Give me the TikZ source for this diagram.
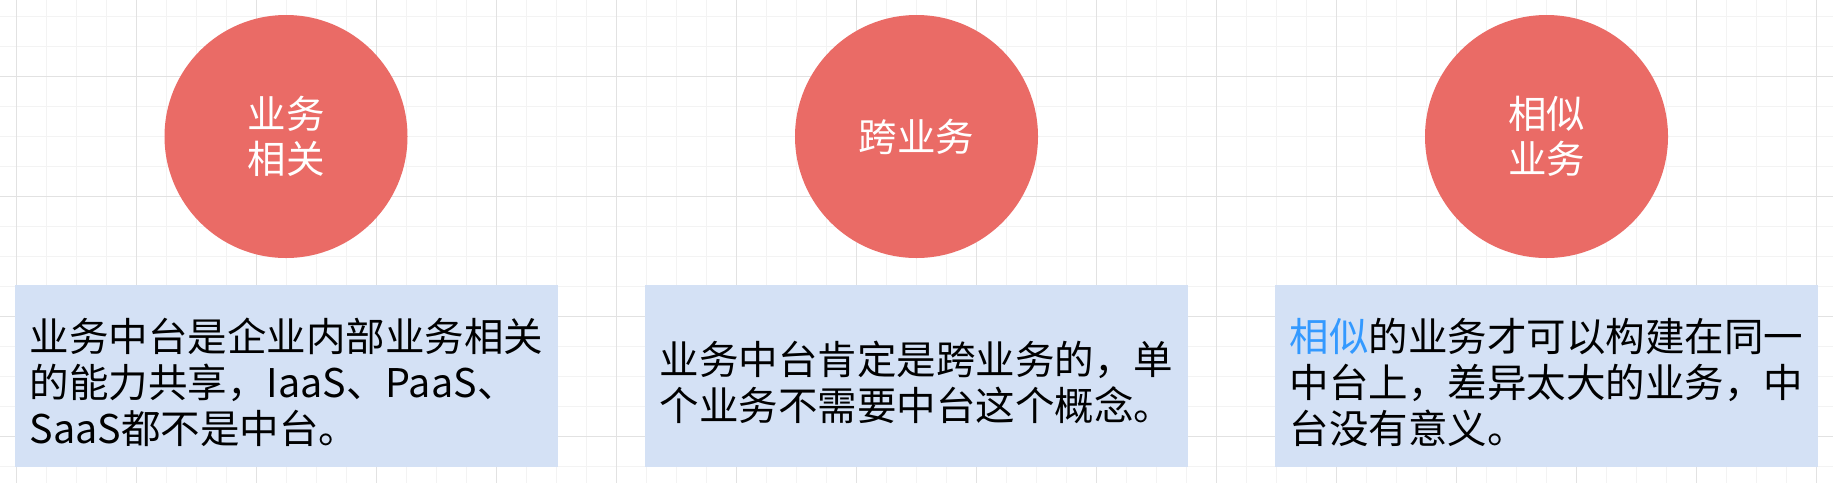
\documentclass[tikz,border=0pt]{standalone}
\usepackage{fontspec}
\setmainfont{Noto Sans CJK SC}
\definecolor{circred}{HTML}{EA6B66}
\definecolor{boxblue}{HTML}{D4E1F5}
\definecolor{hlblue}{HTML}{3399FF}
\definecolor{gridminor}{HTML}{F3F3F3}
\definecolor{gridmajor}{HTML}{E2E2E2}
\tikzset{
  minorline/.style={draw=gridminor, line width=1pt},
  majorline/.style={draw=gridmajor, line width=1.5pt},
  circnode/.style={circle, fill=circred, draw=none, minimum size=243pt, inner sep=0pt,
    text=white, align=center, font=\fontsize{38.5}{44.5}\selectfont},
  textbox/.style={rectangle, fill=boxblue, draw=none, minimum width=543pt, minimum height=182pt,
    inner sep=0pt},
  boxtext/.style={inner sep=0pt, text=black, align=left, font=\fontsize{39.5}{46}\selectfont}
}
\begin{document}
\begin{tikzpicture}[x=1pt,y=-1pt]
\useasboundingbox (0,0) rectangle (1833,483);
\fill[white] (0,0) rectangle (1833,483);
% minor grid
\foreach \i in {0,...,60} { \draw[minorline] ({16.7+30*\i},0) -- ({16.7+30*\i},483); }
\foreach \j in {0,...,15} { \draw[minorline] (0,{16.7+30*\j}) -- (1833,{16.7+30*\j}); }
% major grid
\foreach \i in {0,...,15} { \draw[majorline] ({16.7+120*\i},0) -- ({16.7+120*\i},483); }
\foreach \j in {0,...,3} { \draw[majorline] (0,{76.7+120*\j}) -- (1833,{76.7+120*\j}); }
% circles
\node[circnode] (c1) at (286,136.5) {业务\\相关};
\node[circnode] (c2) at (916.5,136.5) {跨业务};
\node[circnode] (c3) at (1546.5,136.5) {相似\\业务};
% boxes
\node[textbox] (b1) at (286.5,376) {};
\node[textbox] (b2) at (916.5,376) {};
\node[textbox] (b3) at (1546.5,376) {};
\node[boxtext] (t1) at ([yshift=-6pt]b1.center) {业务中台是企业内部业务相关\\的能力共享，IaaS、PaaS、\\SaaS都不是中台。};
\node[boxtext] (t2) at ([yshift=-6pt]b2.center) {业务中台肯定是跨业务的，单\\个业务不需要中台这个概念。};
\node[boxtext] (t3) at ([yshift=-6pt]b3.center) {\textcolor{hlblue}{相似}的业务才可以构建在同一\\中台上，差异太大的业务，中\\台没有意义。};
\end{tikzpicture}
\end{document}
